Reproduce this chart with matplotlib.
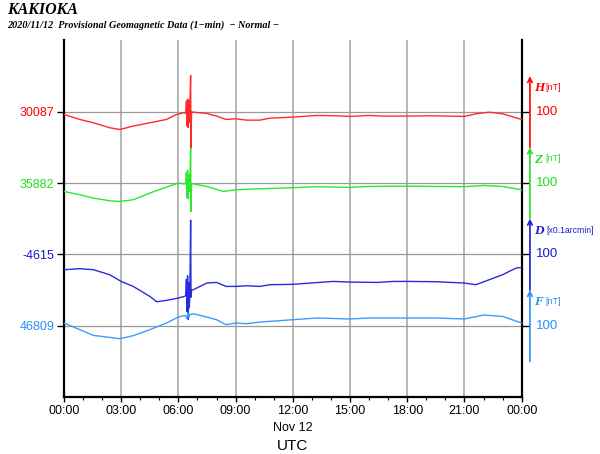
import numpy as np
import matplotlib.pyplot as plt

plt.rcParams['font.family'] = ['Liberation Sans', 'DejaVu Sans']

# hours (UTC) and deviation from baseline (nT, D in 0.1 arcmin)
h_t = [0, 0.84, 1.54, 2.4, 2.93, 3.63, 4.5, 5.37, 5.9, 6.25, 6.38, 6.42, 6.45, 6.48, 6.51, 6.54,
       6.57, 6.60, 6.64, 6.66, 6.69, 6.78, 7.48, 8.0, 8.5, 9.0, 9.58, 10.27, 10.8, 12, 13.25,
       14.3, 15, 16, 16.7, 18, 19.35, 21, 21.6, 22.3, 23.0, 24]
h_v = [-3.7, -10.8, -15.4, -22.4, -24.8, -20, -15.4, -10.8, -3.7, -1.4, -2, 15, -20, 18, -22, 16,
       -15, 10, 51, -51, 0, -0.5, -2.3, -6, -10.8, -9.8, -11.7, -11.7, -8.9, -7.5, -5.1,
       -5.6, -6.5, -5.1, -6, -6, -5.6, -6.5, -2.8, -0.5, -2.8, -10.8]

z_t = [0, 0.84, 1.54, 2.4, 2.93, 3.63, 4.5, 5.37, 6.0, 6.25, 6.38, 6.42, 6.45, 6.48, 6.51, 6.54,
       6.57, 6.60, 6.64, 6.66, 6.69, 6.78, 7.48, 8.35, 9.0, 9.75, 10.27, 12, 13.25, 15, 16, 18,
       19.5, 21, 22, 23, 24]
z_v = [-11.7, -16.4, -21, -24.8, -25.7, -23.4, -14, -5.6, 0, -1, -1, 15, -20, 18, -22, 12,
       -12, 5, 49, -40, -1, -1, -4.7, -11.7, -9.4, -8.4, -8, -6.5, -5.1, -6, -4.7, -4.2,
       -4.7, -5.1, -3.3, -4.7, -9.4]

d_t = [0, 0.84, 1.54, 2.4, 3.0, 3.63, 4.5, 4.86, 5.37, 6.0, 6.3, 6.38, 6.42, 6.45, 6.48, 6.51,
       6.54, 6.57, 6.60, 6.64, 6.66, 6.69, 6.78, 7.48, 8.0, 8.5, 9.0, 9.58, 10.27, 10.8, 12,
       12.9, 14.1, 15, 16.4, 17.3, 18, 19.5, 21, 21.6, 22.3, 23, 23.7, 24]
d_v = [-21.5, -20, -21.5, -28.5, -37.9, -44.9, -58.9, -66.4, -64.5, -61.2, -58.9, -58, -35, -80,
       -30, -91, -40, -75, -55, 48, -60, -50, -49.6, -40.2, -39.3, -44.9, -44.9, -44, -44.9,
       -42.5, -42, -40.2, -37.9, -38.8, -39.3, -37.9, -37.9, -38.3, -40.2, -42.5, -35.5, -28.5,
       -19.2, -18.2]

f_t = [0, 0.84, 1.54, 2.4, 2.93, 3.63, 4.5, 5.37, 6.0, 6.3, 6.38, 6.45, 6.5, 6.55, 6.6, 6.7,
       6.78, 7.48, 8.0, 8.5, 9.0, 9.58, 10.27, 10.8, 12, 13.25, 15, 16, 18, 19.5, 21, 22, 23, 24]
f_v = [3.7, -5.6, -13.6, -16.4, -18.2, -14, -5.6, 3.7, 12.2, 14, 14, 10, 18, 12, 16, 16,
       16.8, 12.2, 8.4, 1.4, 3.7, 2.8, 5.1, 6.1, 8.4, 10.8, 9.4, 10.8, 10.8, 10.8, 9.4, 15, 13, 3.7]

names = ['H', 'Z', 'D', 'F']
units = ['[nT]', '[nT]', '[x0.1arcmin]', '[nT]']
baselines = ['30087', '35882', '-4615', '46809']
scale_labels = ['100', '100', '100', '100']
tick_labels = ['00:00', '03:00', '06:00', '09:00', '12:00', '15:00', '18:00', '21:00', '00:00']

line_colors = ['#ff2a2a', '#2ee82e', '#2a2ae0', '#3a9cff']
text_colors = ['#ff0000', '#22dd22', '#1a1acc', '#2a8cff']
offsets = [400, 300, 200, 100]

fig = plt.figure(figsize=(6, 4.54), dpi=100)
ax = fig.add_axes([64 / 600, 57 / 454, 457.7 / 600, 357 / 454])

series = [(h_t, h_v), (z_t, z_v), (d_t, d_v), (f_t, f_v)]
for (t, v), off, c in zip(series, offsets, line_colors):
    ax.plot(t, np.array(v) + off, color=c, lw=1.0, zorder=3)

ax.set_xlim(0, 24)
ax.set_ylim(0, 500.7)

ax.set_xticks(np.arange(0, 25, 3))
ax.set_xticklabels(tick_labels, fontsize=9)
ax.set_xticks(np.arange(0, 25, 1), minor=True)
ax.tick_params(axis='x', which='major', length=3.5, width=1, pad=2.5)
ax.tick_params(axis='x', which='minor', length=2, width=0.8)
ax.grid(axis='x', which='major', color='#b0b0b0', lw=1.3)

ax.set_yticks(offsets)
ax.set_yticklabels(baselines, fontsize=9)
for lab, c in zip(ax.get_yticklabels(), text_colors):
    lab.set_color(c)
ax.tick_params(axis='y', length=5, width=1, right=True, pad=2)
ax.grid(axis='y', color='#999999', lw=0.9)

for s in ['left', 'right', 'bottom']:
    ax.spines[s].set_linewidth(1.6)
ax.spines['top'].set_visible(False)

# scale arrows on the right
ytr = ax.get_yaxis_transform()
for i in range(4):
    off = offsets[i]
    ax.annotate('', xy=(1.018, off + 50), xytext=(1.018, off - 50),
                xycoords=('axes fraction', 'data'), textcoords=('axes fraction', 'data'),
                arrowprops=dict(arrowstyle='->', color=text_colors[i], lw=1.2,
                                shrinkA=0, shrinkB=0, mutation_scale=8),
                annotation_clip=False)
    ax.text(1.027, off + 33, names[i], transform=ytr,
            color=text_colors[i], fontsize=9.5, fontweight='bold', style='italic',
            family='Liberation Serif', va='center', ha='left', clip_on=False)
    ax.text(1.054 if names[i] == 'D' else 1.051, off + 34, units[i], transform=ytr,
            color=text_colors[i], fontsize=6.2 if names[i] == 'D' else 6.5,
            va='center', ha='left', clip_on=False)
    ax.text(1.032, off, scale_labels[i], transform=ytr,
            color=text_colors[i], fontsize=9.5, va='center', ha='left', clip_on=False)

fig.text(7 / 600, 1 - 10 / 454, 'KAKIOKA', fontsize=11.5, fontweight='bold', style='italic',
         family='Liberation Serif', va='center', ha='left')
fig.text(7 / 600, 1 - 25 / 454,
         '2020/11/12  Provisional Geomagnetic Data (1\u2212min)  \u2212 Normal \u2212',
         fontsize=7.3, fontweight='bold', style='italic', family='Liberation Serif',
         va='center', ha='left')
fig.text((64 + 457.7 / 2) / 600, 1 - 428 / 454, 'Nov 12', fontsize=9, ha='center', va='center')
fig.text((64 + 457.7 / 2) / 600, 1 - 446 / 454, 'UTC', fontsize=11, ha='center', va='center')

fig.savefig('out.png', dpi=100)
